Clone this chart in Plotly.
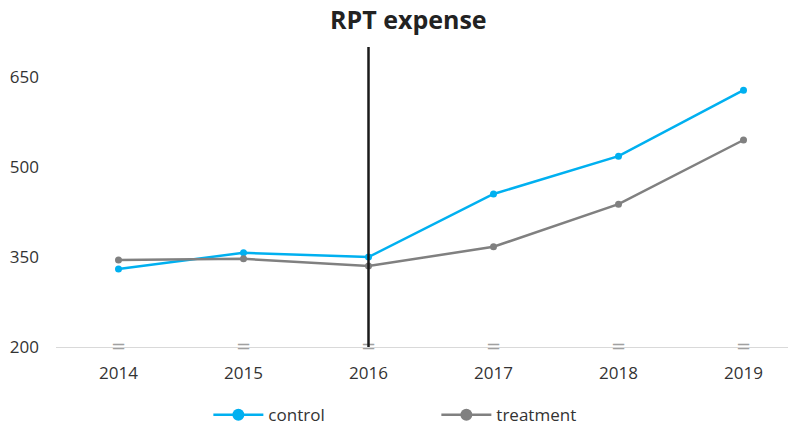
import plotly.graph_objects as go

years = ["2014", "2015", "2016", "2017", "2018", "2019"]
control = [330, 357, 350, 455, 518, 628]
treatment = [345, 347, 335, 367, 438, 545]
baseline_marks = [200, 200, 200, 200, 200, 200]
y_ticks = [200, 350, 500, 650]
event_year_index = 2

BLUE = "#00B0F0"
GRAY = "#808080"

fig = go.Figure()
fig.add_trace(go.Scatter(
    x=years, y=baseline_marks, mode="text", text=["="] * len(years),
    textfont=dict(size=18, color="#a0a0a0", family="DejaVu Sans"),
    textposition="middle center", showlegend=False, hoverinfo="skip", cliponaxis=False))
fig.add_trace(go.Scatter(
    x=years, y=control, name="control", mode="lines+markers", legendgroup="c", showlegend=False,
    line=dict(color=BLUE, width=2.5), marker=dict(size=7, color=BLUE)))
fig.add_trace(go.Scatter(
    x=years, y=treatment, name="treatment", mode="lines+markers", legendgroup="t", showlegend=False,
    line=dict(color=GRAY, width=2.5), marker=dict(size=7, color=GRAY)))
# legend entries with larger symbols
fig.add_trace(go.Scatter(
    x=[None], y=[None], name="control", mode="lines+markers", legendgroup="c",
    line=dict(color=BLUE, width=2.5), marker=dict(size=12, color=BLUE)))
fig.add_trace(go.Scatter(
    x=[None], y=[None], name="treatment", mode="lines+markers", legendgroup="t",
    line=dict(color=GRAY, width=2.5), marker=dict(size=12, color=GRAY)))

fig.add_shape(type="line", xref="x", yref="y", x0=event_year_index, x1=event_year_index,
              y0=200, y1=700, line=dict(color="#1a1a1a", width=2.5), layer="above")

fig.update_layout(
    width=788, height=418,
    margin=dict(l=48, r=0, t=39, b=79, autoexpand=False),
    paper_bgcolor="white", plot_bgcolor="white",
    font=dict(family="Open Sans", size=17, color="#333333"),
    title=dict(text="<b>RPT expense</b>", x=0.508, xanchor="center", y=0.970, yanchor="middle",
               font=dict(size=25, color="#222222", family="Open Sans")),
    xaxis=dict(type="category", range=[-0.5, 5.42], showgrid=False, zeroline=False,
               showline=True, linecolor="#D9D9D9", linewidth=1, ticks="", automargin=False,
               tickfont=dict(size=17, color="#333333"), ticklabelstandoff=11),
    yaxis=dict(range=[200, 700], tickvals=y_ticks, showgrid=False, zeroline=False,
               showline=False, ticks="", automargin=False,
               tickfont=dict(size=17, color="#333333"), ticklabelstandoff=16),
    legend=dict(orientation="h", x=0.514, xanchor="center",
                y=-0.227, yanchor="middle", entrywidth=163, itemwidth=50,
                font=dict(size=17, color="#333333")),
)

fig.write_html("out.html")
